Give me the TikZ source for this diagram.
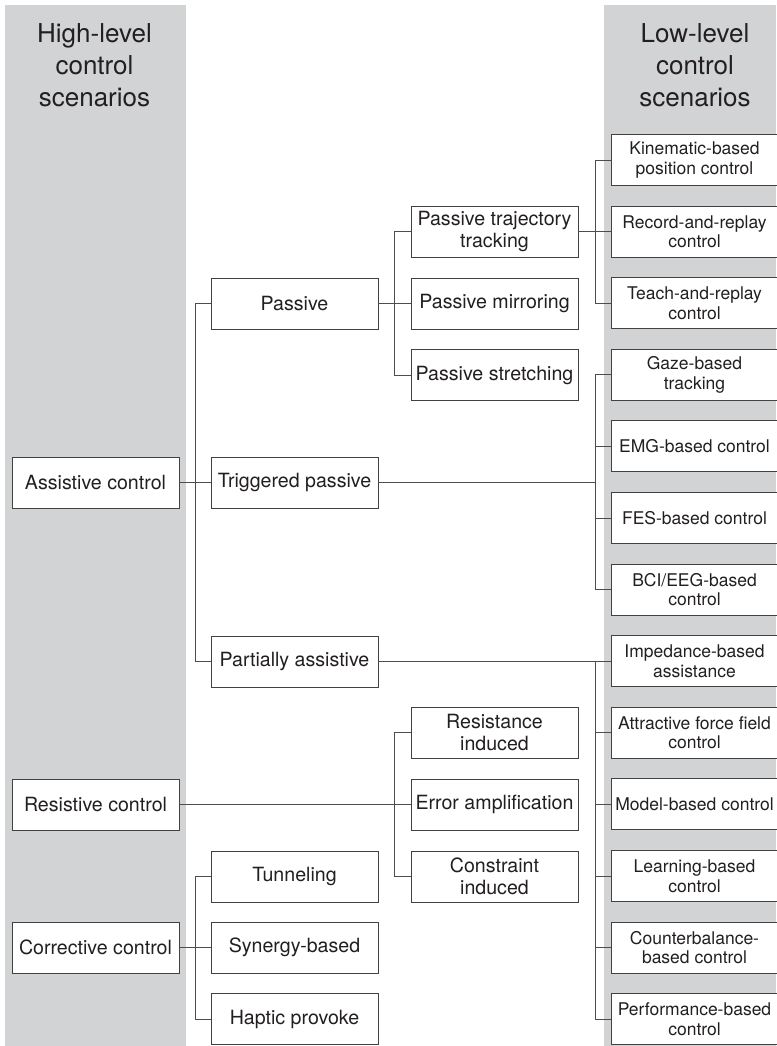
\documentclass[tikz,border=0pt]{standalone}
\usepackage{fontspec}
\setmainfont{TeX Gyre Heros}
\definecolor{band}{HTML}{D1D3D4}
\definecolor{ink}{HTML}{231F20}
\definecolor{wire}{HTML}{4D4D4F}
\tikzset{
  box/.style = {draw=ink!85, fill=white, line width=0.9pt, minimum width=167pt,
    minimum height=51pt, inner sep=0pt, align=center, text=ink,
    font=\fontsize{19.6}{22}\selectfont},
  lowbox/.style = {box, font=\fontsize{17.5}{19.5}\selectfont},
  link/.style = {draw=wire, line width=0.9pt},
  header/.style = {align=center, text=ink, font=\fontsize{26}{32}\selectfont}
}
\tikzset{>=latex}

\begin{document}
\begin{tikzpicture}[x=1pt,y=-1pt]
  \pgfmathsetmacro{\pitch}{71.6}
  \useasboundingbox (0,0) rectangle (776,1046);
  % bands
  \fill[band] (5,5) rectangle (186,1046);
  \fill[band] (604,5) rectangle (776,1046);
  \node[header] (high) at (94.5,65) {High-level\\control\\scenarios};
  \node[header] (low) at (695,65) {Low-level\\control\\scenarios};
  % buses
  \coordinate (busA) at (195,0);
  \coordinate (busB) at (394.7,0);
  \coordinate (busC) at (595,0);
  % high-level
  \node[box] (assist) at (95.5,482.5) {Assistive control};
  \node[box] (resist) at (95.5,804.5) {Resistive control};
  \node[box] (correct) at (95.5,947.5) {Corrective control};
  % second level
  \node[box] (passive) at (294.5,303.5) {Passive};
  \node[box] (trig) at (294.5,482.5) {Triggered passive};
  \node[box] (partial) at (294.5,661.5) {Partially assistive};
  \node[box] (tunnel) at (294.5,876.5) {Tunneling};
  \node[box] (synergy) at (294.5,947.5) {Synergy-based};
  \node[box] (haptic) at (294.5,1019) {Haptic provoke};
  % third level
  \node[box] (traj) at (494.5,231.5) {Passive trajectory\\tracking};
  \node[box] (mirror) at (494.5,303.5) {Passive mirroring};
  \node[box] (stretch) at (494.5,375) {Passive stretching};
  \node[box] (resind) at (494.5,732.5) {Resistance\\induced};
  \node[box] (erramp) at (494.5,804.5) {Error amplification};
  \node[box] (conind) at (494.5,876.5) {Constraint\\induced};
  % low-level
  \foreach \name/\txt [count=\i from 0] in {
      kin/{Kinematic-based\\position control},
      record/{Record-and-replay\\control},
      teach/{Teach-and-replay\\control},
      gaze/{Gaze-based\\tracking},
      emg/{EMG-based control},
      fes/{FES-based control},
      bci/{BCI/EEG-based\\control},
      imped/{Impedance-based\\assistance},
      attract/{Attractive force field\\control},
      model/{Model-based control},
      learn/{Learning-based\\control},
      counter/{Counterbalance-\\based control},
      perf/{Performance-based\\control}}
    \node[lowbox] (\name) at (694.5,{160+\i*\pitch}) {\txt};
  % links
  \foreach \c in {passive,trig,partial}
    \draw[link] (assist.east) -- (assist.east -| busA) |- (\c.west);
  \foreach \c in {tunnel,synergy,haptic}
    \draw[link] (correct.east) -- (correct.east -| busA) |- (\c.west);
  \foreach \c in {traj,mirror,stretch}
    \draw[link] (passive.east) -- (passive.east -| busB) |- (\c.west);
  \foreach \c in {resind,erramp,conind}
    \draw[link] (resist.east) -- (resist.east -| busB) |- (\c.west);
  \foreach \c in {kin,record,teach}
    \draw[link] (traj.east) -- (traj.east -| busC) |- (\c.west);
  \foreach \c in {gaze,emg,fes,bci}
    \draw[link] (trig.east) -- (trig.east -| busC) |- (\c.west);
  \foreach \c in {imped,attract,model,learn,counter,perf}
    \draw[link] (partial.east) -- (partial.east -| busC) |- (\c.west);
\end{tikzpicture}
\end{document}
